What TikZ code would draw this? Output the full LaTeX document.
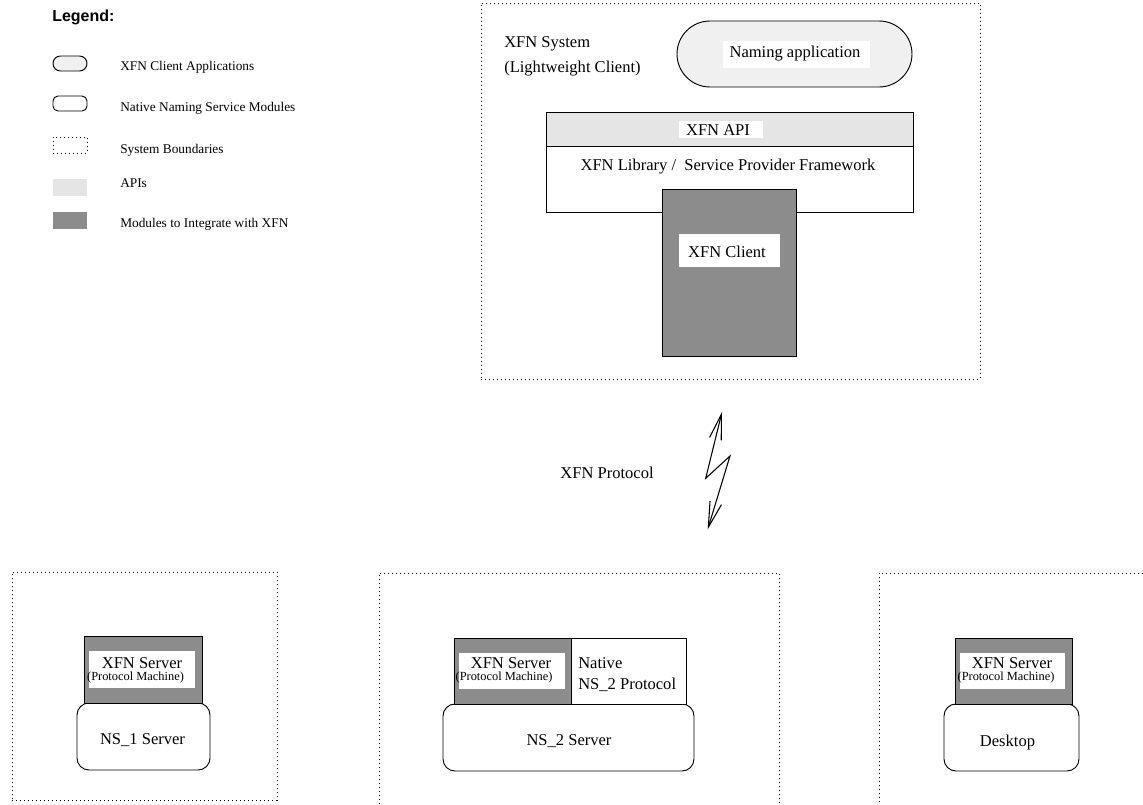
\documentclass[tikz,border=0pt]{standalone}
\usepackage{fontspec}
\setmainfont{Liberation Serif}
\newfontfamily\legfont{Liberation Sans}
\usetikzlibrary{arrows.meta}
\newcommand\pxu{0.75pt}
\definecolor{dkgray}{HTML}{8C8C8C}
\definecolor{apigray}{HTML}{E5E5E5}
\definecolor{appgray}{HTML}{F0F0F0}
\begin{document}
\begin{tikzpicture}[x=0.75pt,y=-0.75pt,
  sz/.style 2 args={minimum width=#1*\pxu, minimum height=#2*\pxu, inner sep=0pt, outer sep=0pt},
  sysbound/.style={draw, line width=0.7pt, dash pattern=on 1.1pt off 1.9pt},
  darkbox/.style={draw, fill=dkgray, line width=0.7pt},
  plainbox/.style={draw, fill=white, line width=0.7pt},
  serverbox/.style={draw, fill=white, line width=0.7pt, rounded corners=9pt},
  labelbox/.style={fill=white, draw=none},
  maintext/.style={inner sep=0pt, font=\fontsize{12.4}{14.5}\selectfont},
  smalltext/.style={inner sep=0pt, font=\fontsize{9.3}{11}\selectfont},
  legtext/.style={inner sep=0pt, anchor=west, font=\fontsize{10}{12}\selectfont},
  zap/.style={line width=0.8pt, {Straight Barb[length=19pt,width=9pt]}-{Straight Barb[length=19pt,width=9pt]}}
]
\useasboundingbox (0,0) rectangle (1143,804);
\clip (0,0) rectangle (1143,804);

% ---------------- Legend ----------------
\node[inner sep=0pt, anchor=west, font=\legfont\bfseries\fontsize{12}{14}\selectfont] (legtitle) at (52,17) {Legend:};
\node[sz={34}{15}, draw, fill=appgray, line width=0.7pt, rounded corners=5.6pt] (legapp) at (70,63.5) {};
\node[legtext] (legapptxt) at (120,67) {XFN Client Applications};
\node[sz={34}{15}, draw, fill=white, line width=0.7pt, rounded corners=3.75pt] (legnat) at (70,103.5) {};
\node[legtext] (legnattxt) at (120,108) {Native Naming Service Modules};
\node[sz={34}{16}, sysbound] (legsys) at (70,145) {};
\node[legtext] (legsystxt) at (120,150) {System Boundaries};
\node[sz={34}{17}, fill=apigray] (legapi) at (70,187.5) {};
\node[legtext] (legapitxt) at (120,183) {APIs};
\node[sz={34}{17}, fill=dkgray] (legmod) at (70,220.5) {};
\node[legtext] (legmodtxt) at (120,224) {Modules to Integrate with XFN};

% ---------------- Top system ----------------
\node[sz={499}{376}, sysbound] (topsys) at (730.5,191) {};
\node[maintext, anchor=west] (systitle) at (504,44) {XFN System};
\node[maintext, anchor=west] (syssub) at (504,69) {(Lightweight Client)};

\node[sz={235}{66}, draw, fill=appgray, line width=0.7pt, rounded corners=24.75pt] (naming) at (794.5,54) {};
\node[sz={147}{27}, labelbox] (naminglbl) at (796.5,54.5) {};
\node[maintext] (namingtxt) at (795,53.5) {Naming application};

\node[sz={367}{34}, draw, fill=apigray, line width=0.7pt] (api) at (729.5,129) {};
\node[sz={84}{17}, labelbox] (apilbl) at (721,129.5) {};
\node[maintext] (apitxt) at (718,130) {XFN API};
\node[sz={367}{66}, plainbox] (lib) at (729.5,179) {};
\node[maintext] (libtxt) at (728,167) {XFN Library /\ \ Service Provider Framework};

\node[sz={134}{167}, darkbox] (client) at (729,272.5) {};
\node[sz={101}{33}, labelbox] (clientlbl) at (729.5,250.5) {};
\node[maintext] (clienttxt) at (727,252) {XFN Client};

% ---------------- Protocol ----------------
\coordinate (z1) at (722,412);
\coordinate (z2) at (705.7,478.3);
\coordinate (z3) at (730,456);
\coordinate (z4) at (707.7,529.3);
\draw[zap] (z1) -- (z2) -- (z3) -- (z4);
\node[maintext] (prototxt) at (607,473) {XFN Protocol};

% ---------------- Bottom left ----------------
\node[sz={265}{228}, sysbound] (sys1) at (144.5,686) {};
\node[sz={133}{67}, serverbox] (ns1) at (143.5,736.5) {};
\node[maintext] (ns1txt) at (142.5,740) {NS\_1 Server};
\node[sz={118}{67}, darkbox] (xs1) at (143,669.5) {};
\node[sz={106}{37}, labelbox] (xs1lbl) at (142,669.5) {};
\node[maintext] (xs1txt) at (142,663) {XFN Server};
\node[smalltext] (xs1pm) at (135.5,678) {(Protocol Machine)};

% ---------------- Bottom middle ----------------
\node[sz={400}{242}, sysbound] (sys2) at (579,694) {};
\node[sz={251}{67}, serverbox] (ns2) at (568.5,737.5) {};
\node[maintext] (ns2txt) at (569,741) {NS\_2 Server};
\node[sz={117}{66}, darkbox] (xs2) at (512.5,671) {};
\node[sz={115}{66}, plainbox] (nat2) at (628.5,671) {};
\node[sz={106}{36}, labelbox] (xs2lbl) at (512,671) {};
\node[maintext] (xs2txt) at (511,663) {XFN Server};
\node[smalltext] (xs2pm) at (504,678) {(Protocol Machine)};
\node[maintext, anchor=west] (nat2a) at (578,663) {Native};
\node[maintext, anchor=west] (nat2b) at (578,685) {NS\_2 Protocol};

% ---------------- Bottom right ----------------
\node[sz={281}{242}, sysbound] (sys3) at (1019.5,694) {};
\node[sz={135}{67}, serverbox] (desk) at (1011.5,737.5) {};
\node[maintext] (desktxt) at (1007.5,743) {Desktop};
\node[sz={117}{66}, darkbox] (xs3) at (1013.5,671) {};
\node[sz={105}{36}, labelbox] (xs3lbl) at (1012.5,671) {};
\node[maintext] (xs3txt) at (1012,663) {XFN Server};
\node[smalltext] (xs3pm) at (1006,678) {(Protocol Machine)};
\end{tikzpicture}
\end{document}
